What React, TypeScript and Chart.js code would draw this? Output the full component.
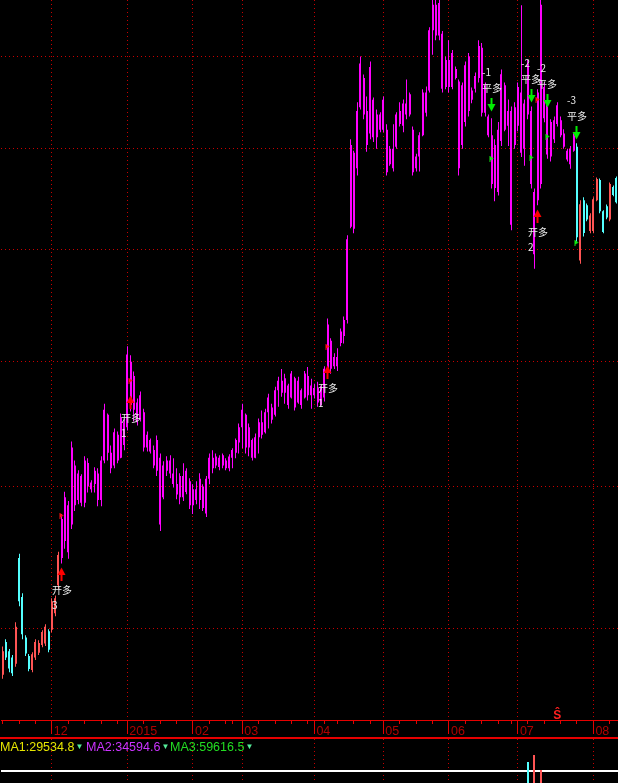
import React, { useEffect, useRef } from 'react';
import { Chart, registerables } from 'chart.js';

Chart.register(...registerables);

// ---------- trading days (categories) ----------
const nov2014 = [10, 11, 12, 13, 14, 17, 18, 19, 20, 21, 24, 25, 26, 27, 28];
const dec2014 = [1, 2, 3, 4, 5, 8, 9, 10, 11, 12, 15, 16, 17, 18, 19, 22, 23, 24, 25, 26, 29, 30, 31];
const jan2015 = [5, 6, 7, 8, 9, 12, 13, 14, 15, 16, 19, 20, 21, 22, 23, 26, 27, 28, 29, 30];
const feb2015 = [2, 3, 4, 5, 6, 9, 10, 11, 12, 13, 16, 17, 25, 26, 27];
const mar2015 = [2, 3, 4, 5, 6, 9, 10, 11, 12, 13, 16, 17, 18, 19, 20, 23, 24, 25, 26, 27, 30, 31];
const apr2015 = [1, 2, 3, 7, 8, 9, 10, 13, 14, 15, 16, 17, 20, 21, 22, 23, 24, 27, 28, 29, 30];
const may2015 = [4, 5, 6, 7, 8, 11, 12, 13, 14, 15, 18, 19, 20, 21, 22, 25, 26, 27, 28, 29];
const jun2015 = [1, 2, 3, 4, 5, 8, 9, 10, 11, 12, 15, 16, 17, 18, 19, 23, 24, 25, 26, 29, 30];
const jul2015 = [1, 2, 3, 6, 7, 8, 9, 10, 13, 14, 15, 16, 17, 20, 21, 22, 23, 24, 27, 28, 29, 30, 31];
const aug2015 = [3, 4, 5, 6, 7, 10, 11, 12];

const monthTickLabels = ['12', '2015', '02', '03', '04', '05', '06', '07', '08'];

// ---------- OHLC ----------
const opens = [
  3350, 3455, 3425, 3405, 3385, 3740, 3605, 3470, 3410, 3365,
  3405, 3420, 3445, 3450, 3490, 3495, 3550, 3645, 3740, 3800,
  3930, 3860, 4080, 3950, 4040, 3940, 4090, 3990, 4010, 4050,
  3950, 4100, 4280, 4130, 4080, 4200, 4110, 4250, 4230, 4500,
  4300, 4330, 4260, 4290, 4150, 4180, 4140, 4060, 4110, 3960,
  4060, 4100, 4050, 4010, 3960, 4040, 3980, 4020, 3930, 3990,
  3950, 4000, 3900, 4030, 4110, 4080, 4110, 4080, 4100, 4070,
  4110, 4130, 4170, 4230, 4280, 4150, 4180, 4110, 4190, 4250,
  4210, 4290, 4310, 4280, 4380, 4420, 4370, 4400, 4350, 4430,
  4330, 4380, 4350, 4440, 4360, 4390, 4390, 4320, 4350, 4460,
  4590, 4480, 4520, 4580, 4610, 4680, 5110, 5480, 5400, 5720,
  5880, 5700, 5580, 5760, 5560, 5680, 5600, 5600, 5420, 5500,
  5510, 5700, 5620, 5740, 5680, 5600, 5400, 5460, 5570, 5800,
  5810, 6150, 6300, 6120, 6130, 5830, 5980, 5830, 5930, 5860,
  5520, 5950, 5700, 5810, 5820, 5880, 6050, 5840, 5670, 5570,
  5300, 5600, 5540, 5840, 5620, 5700, 5520, 5620, 5800, 5500,
  5960, 5700, 4980, 5240, 5320, 5830, 5740, 5460, 5650, 5630,
  5650, 5580, 5490, 5420, 5490, 5510, 4950, 5240, 5215, 5090,
  5090, 5240, 5340, 5185, 5210, 5145, 5305, 5350,
];
const highs = [
  3440, 3464, 3432, 3413, 3520, 3755, 3617, 3477, 3416, 3422,
  3464, 3461, 3493, 3513, 3497, 3600, 3610, 3762, 3898, 3981,
  3946, 4174, 4100, 4062, 4047, 4116, 4108, 4024, 4074, 4070,
  4116, 4325, 4285, 4158, 4225, 4213, 4285, 4265, 4566, 4527,
  4458, 4346, 4375, 4305, 4213, 4186, 4158, 4197, 4127, 4097,
  4116, 4120, 4108, 4070, 4051, 4089, 4070, 4032, 4009, 4020,
  4051, 4009, 4040, 4127, 4139, 4127, 4120, 4127, 4108, 4124,
  4147, 4186, 4245, 4325, 4285, 4245, 4186, 4205, 4265, 4297,
  4305, 4366, 4325, 4395, 4436, 4469, 4449, 4407, 4461, 4436,
  4436, 4387, 4461, 4477, 4428, 4407, 4415, 4399, 4481, 4687,
  4600, 4536, 4557, 4643, 4696, 5070, 5550, 5490, 5746, 6000,
  5899, 5778, 5972, 5773, 5708, 5692, 5778, 5628, 5515, 5628,
  5692, 5746, 5762, 5871, 5800, 5617, 5474, 5586, 5817, 5833,
  6168, 6360, 6340, 6330, 6146, 6000, 6093, 6037, 5943, 5871,
  5855, 5972, 6020, 5827, 5910, 6093, 6076, 5855, 5681, 5660,
  5550, 5640, 5927, 5855, 5762, 5724, 5746, 5855, 6297, 5762,
  5983, 5724, 5298, 5817, 6340, 5855, 5762, 5655, 5670, 5746,
  5670, 5602, 5500, 5514, 5581, 5529, 5239, 5254, 5224, 5176,
  5254, 5353, 5348, 5190, 5219, 5328, 5313, 5358,
];
const lows = [
  3337, 3397, 3358, 3346, 3375, 3573, 3464, 3410, 3361, 3358,
  3397, 3413, 3438, 3442, 3422, 3487, 3540, 3633, 3720, 3772,
  3737, 3843, 3909, 3934, 3927, 3923, 3978, 3978, 3978, 3927,
  3927, 4089, 4100, 4051, 4070, 4089, 4108, 4139, 4217, 4293,
  4253, 4237, 4253, 4135, 4135, 4127, 4070, 4040, 3836, 3953,
  4040, 4032, 3997, 3953, 3934, 3946, 3971, 3916, 3898, 3934,
  3916, 3909, 3887, 4009, 4051, 4070, 4062, 4070, 4062, 4058,
  4070, 4108, 4127, 4147, 4127, 4116, 4100, 4108, 4127, 4186,
  4205, 4225, 4245, 4273, 4313, 4354, 4325, 4305, 4346, 4297,
  4325, 4305, 4346, 4338, 4305, 4346, 4313, 4313, 4334, 4441,
  4449, 4469, 4461, 4566, 4578, 4665, 5103, 5079, 5363, 5708,
  5655, 5485, 5550, 5535, 5500, 5586, 5586, 5363, 5413, 5383,
  5500, 5617, 5586, 5655, 5670, 5363, 5383, 5383, 5565, 5670,
  5800, 6009, 6093, 6093, 5800, 5817, 5800, 5817, 5871, 5363,
  5500, 5617, 5670, 5741, 5800, 5855, 5670, 5670, 5560, 5298,
  5234, 5263, 5514, 5591, 5514, 5093, 5500, 5591, 5458, 5413,
  5655, 5298, 4912, 5215, 5298, 5639, 5449, 5434, 5530, 5617,
  5560, 5500, 5434, 5398, 5485, 5039, 4935, 5064, 5137, 5079,
  5079, 5234, 5176, 5079, 5147, 5137, 5259, 5224,
];
const closes = [
  3425, 3405, 3370, 3355, 3505, 3590, 3480, 3418, 3368, 3415,
  3455, 3452, 3488, 3505, 3430, 3590, 3600, 3750, 3880, 3960,
  3760, 4150, 3930, 4050, 3940, 4100, 4000, 4015, 4060, 3950,
  4100, 4300, 4130, 4070, 4210, 4100, 4270, 4160, 4530, 4320,
  4440, 4250, 4360, 4150, 4200, 4135, 4080, 4180, 3860, 4080,
  4100, 4050, 4010, 3970, 4040, 3960, 4060, 3930, 3990, 3950,
  4030, 3920, 4030, 4110, 4070, 4115, 4075, 4120, 4070, 4115,
  4140, 4180, 4230, 4300, 4150, 4230, 4110, 4190, 4250, 4200,
  4290, 4350, 4260, 4380, 4420, 4370, 4430, 4320, 4450, 4310,
  4420, 4320, 4450, 4360, 4400, 4360, 4330, 4390, 4470, 4660,
  4470, 4520, 4480, 4630, 4680, 5050, 5520, 5100, 5700, 5960,
  5680, 5520, 5940, 5560, 5680, 5600, 5760, 5380, 5500, 5400,
  5680, 5630, 5740, 5680, 5790, 5380, 5460, 5570, 5800, 5690,
  6150, 6300, 6120, 6310, 5820, 5980, 5830, 6020, 5880, 5400,
  5840, 5640, 6000, 5760, 5890, 6060, 5690, 5690, 5570, 5320,
  5520, 5280, 5900, 5600, 5700, 5120, 5720, 5830, 5480, 5740,
  5680, 5320, 5280, 5800, 6300, 5660, 5470, 5640, 5550, 5730,
  5570, 5510, 5445, 5500, 5570, 5060, 5220, 5080, 5145, 5165,
  5245, 5345, 5185, 5085, 5155, 5320, 5265, 5230,
];

// bars held in a long position (drawn magenta)
const holdFrom = 18;
const holdTo = 174;

// horizontal grid levels and visible price range
const priceGrid = [3500, 4000, 4500, 5000, 5500, 6000];
const priceMin = 3210;
const priceMax = 6328;

// trade signals
const signalIndex = [18, 39, 99, 149, 161, 163, 166, 175];
const signalText = ['开多', '开多', '开多', '平多', '平多', '开多', '平多', '平多'];
const signalQty = ['3', '1', '1', '-1', '-2', '2', '-2', '-3'];
const signalPrice = [3706, 4358, 4482, 5697, 5746, 5190, 5719, 5550];
// fill price of each signal (small flag on the bar)
const fillPrice = [3889, 4417, 4564, 5448, 5453, 5760, 5563, 5034];

// marker on the time axis
const axisMarkIndex = 169;
const axisMarkText = 'Ŝ';

// volume panel (only the tops of the tallest bars are visible)
const volumeIndex = [160, 162, 164];
const volumeValue = [216800, 239100, 191400];
const volumeMin = 150000;
const volumeMax = 290000;
const volumeRefLine = 188000;

// moving average legend
const maNames = ['MA1', 'MA2', 'MA3'];
const maValues = ['29534.8', '34594.6', '59616.5'];

// ---------- derived ----------
const pad2 = (n: number) => (n < 10 ? '0' + n : String(n));
const monthBlocks: Array<[number, number, number[]]> = [
  [2014, 11, nov2014], [2014, 12, dec2014], [2015, 1, jan2015], [2015, 2, feb2015], [2015, 3, mar2015],
  [2015, 4, apr2015], [2015, 5, may2015], [2015, 6, jun2015], [2015, 7, jul2015], [2015, 8, aug2015],
];
const dates: string[] = [];
monthBlocks.forEach(([y, m, days]) => days.forEach((d) => dates.push(`${y}-${pad2(m)}-${pad2(d)}`)));

const toDate = (s: string) => {
  const [y, m, d] = s.split('-').map(Number);
  return new Date(Date.UTC(y, m - 1, d));
};
const monthStarts: number[] = [];
const weekStarts: number[] = [0];
dates.forEach((s, i) => {
  if (i === 0) return;
  const cur = toDate(s);
  const prev = toDate(dates[i - 1]);
  const gap = (cur.getTime() - prev.getTime()) / 86400000;
  const dow = (cur.getUTCDay() + 6) % 7;
  const pdow = (prev.getUTCDay() + 6) % 7;
  if (dow <= pdow || gap >= 7) weekStarts.push(i);
  if (cur.getUTCMonth() !== prev.getUTCMonth()) monthStarts.push(i);
});
const axisTicks = Array.from(new Set([...weekStarts, ...monthStarts])).sort((a, b) => a - b);
const monthLabel = new Map<number, string>();
monthStarts.forEach((idx, k) => monthLabel.set(idx, monthTickLabels[k]));

const MAGENTA = '#ff00ff';
const UP = '#ff5454';
const DOWN = '#54ffff';
const GRID_RED = '#c80000';
const AXIS_RED = '#e60000';
const LABEL_RED = '#b00000';

const barColors = dates.map((_, i) =>
  i >= holdFrom && i <= holdTo ? MAGENTA : closes[i] >= opens[i] ? UP : DOWN
);
const volColors = dates.map((_, i) => (closes[i] >= opens[i] ? UP : DOWN));
const volumes: (number | null)[] = dates.map(() => null);
volumeIndex.forEach((idx, k) => (volumes[idx] = volumeValue[k]));

function makeArrow(up: boolean, color: string): HTMLCanvasElement {
  const c = document.createElement('canvas');
  c.width = 9;
  c.height = 28;
  const g = c.getContext('2d') as CanvasRenderingContext2D;
  g.fillStyle = color;
  if (up) {
    g.beginPath();
    g.moveTo(4.5, 13.5);
    g.lineTo(8.5, 21);
    g.lineTo(0.5, 21);
    g.closePath();
    g.fill();
    g.fillRect(3.5, 21, 2, 6);
  } else {
    g.fillRect(3.5, 1, 2, 6);
    g.beginPath();
    g.moveTo(0.5, 7);
    g.lineTo(8.5, 7);
    g.lineTo(4.5, 14.5);
    g.closePath();
    g.fill();
  }
  return c;
}

function makeFlag(color: string): HTMLCanvasElement {
  const c = document.createElement('canvas');
  c.width = 6;
  c.height = 6;
  const g = c.getContext('2d') as CanvasRenderingContext2D;
  g.fillStyle = color;
  g.fillRect(1, 0, 1, 6);
  g.beginPath();
  g.moveTo(2, 0.5);
  g.lineTo(5, 2.5);
  g.lineTo(2, 4.5);
  g.closePath();
  g.fill();
  return c;
}

// snap bars and markers to whole pixels so 1px / 2px marks stay crisp
const snapPlugin = {
  id: 'snap',
  beforeDatasetsDraw(chart: any) {
    chart.data.datasets.forEach((_: any, di: number) => {
      const meta = chart.getDatasetMeta(di);
      meta.data.forEach((el: any) => {
        if (meta.type === 'bar') {
          const w = el.width;
          el.x = Math.round(el.x - w / 2) + w / 2;
        } else {
          el.x = Math.round(el.x - 0.5) + 0.5;
          el.y = Math.round(el.y);
        }
      });
    });
  },
};

const overlayPlugin = {
  id: 'overlay',
  afterDatasetsDraw(chart: any) {
    const { ctx, chartArea, scales } = chart;
    const xs = scales.x;
    const ys = scales.y;
    ctx.save();
    ctx.font = '10px "Noto Sans CJK SC", sans-serif';
    ctx.fillStyle = '#ebebeb';
    ctx.textBaseline = 'middle';
    signalIndex.forEach((idx, k) => {
      const px = Math.round(xs.getPixelForValue(idx));
      const py = Math.round(ys.getPixelForValue(signalPrice[k]));
      const isOpen = signalText[k] === '开多';
      const w = ctx.measureText(signalText[k]).width;
      ctx.textAlign = 'center';
      ctx.fillText(signalText[k], px, isOpen ? py + 22 : py - 23);
      ctx.textAlign = 'left';
      ctx.fillText(signalQty[k], px - w / 2, isOpen ? py + 37 : py - 39);
    });
    ctx.font = 'bold 12px "Liberation Sans", Arial, sans-serif';
    ctx.fillStyle = '#ff2020';
    ctx.textAlign = 'center';
    ctx.textBaseline = 'alphabetic';
    ctx.fillText(axisMarkText, xs.getPixelForValue(axisMarkIndex), chartArea.bottom - 1.5);
    ctx.restore();
  },
  afterDraw(chart: any) {
    const { ctx, chartArea, scales } = chart;
    ctx.save();
    ctx.strokeStyle = AXIS_RED;
    ctx.lineWidth = 1;
    monthStarts.forEach((idx) => {
      const px = Math.round(scales.x.getPixelForValue(idx) - 0.5) + 0.5;
      ctx.beginPath();
      ctx.moveTo(px, chartArea.bottom);
      ctx.lineTo(px, chartArea.bottom + 14);
      ctx.stroke();
    });
    ctx.restore();
  },
};

export default function App() {
  const priceRef = useRef<HTMLCanvasElement>(null);
  const volRef = useRef<HTMLCanvasElement>(null);

  useEffect(() => {
    document.body.style.margin = '0';
    document.body.style.background = '#000';

    const upArrow = makeArrow(true, '#ff0000');
    const downArrow = makeArrow(false, '#00ee00');
    const redFlag = makeFlag('#ff1010');
    const greenFlag = makeFlag('#10ee10');
    const openPts: any[] = [];
    const closePts: any[] = [];
    const openFills: any[] = [];
    const closeFills: any[] = [];
    signalIndex.forEach((idx, k) => {
      const isOpen = signalText[k] === '开多';
      (isOpen ? openPts : closePts).push({ x: dates[idx], y: signalPrice[k] });
      (isOpen ? openFills : closeFills).push({ x: dates[idx], y: fillPrice[k] });
    });

    const common: any = {
      animation: false,
      responsive: false,
      maintainAspectRatio: false,
      devicePixelRatio: 1,
      events: [],
      layout: { autoPadding: false, padding: { left: 1, right: 0, top: 0, bottom: 0 } },
      plugins: { legend: { display: false }, tooltip: { enabled: false }, title: { display: false } },
    };

    const pointSet = (data: any[], style: any) => ({
      type: 'line',
      data,
      showLine: false,
      pointStyle: style,
      pointRadius: 4,
      order: 0,
    });

    const price = new Chart(priceRef.current as HTMLCanvasElement, {
      type: 'bar',
      data: {
        labels: dates,
        datasets: [
          pointSet(openPts, upArrow),
          pointSet(closePts, downArrow),
          pointSet(openFills, redFlag),
          pointSet(closeFills, greenFlag),
          {
            data: dates.map((_, i) => [opens[i], closes[i]]),
            backgroundColor: barColors,
            barThickness: 2,
            grouped: false,
            inflateAmount: 0,
            order: 1,
          } as any,
          {
            data: dates.map((_, i) => [lows[i], highs[i]]),
            backgroundColor: barColors,
            barThickness: 1,
            grouped: false,
            inflateAmount: 0,
            order: 2,
          } as any,
        ] as any,
      },
      options: {
        ...common,
        scales: {
          x: {
            type: 'category',
            offset: true,
            afterBuildTicks: (s: any) => {
              s.ticks = axisTicks.map((v) => ({ value: v }));
            },
            ticks: {
              autoSkip: false,
              maxRotation: 0,
              minRotation: 0,
              align: 'start',
              labelOffset: 2,
              padding: 1,
              color: LABEL_RED,
              font: { family: '"Liberation Sans", Arial, sans-serif', size: 12.5, lineHeight: 13 / 12.5 },
              callback: (v: any) => monthLabel.get(Number(v)) ?? '',
            },
            grid: {
              display: true,
              offset: false,
              drawOnChartArea: true,
              drawTicks: true,
              tickLength: 4,
              tickColor: AXIS_RED,
              tickWidth: 1,
              lineWidth: 1,
              color: (c: any) => (c.tick && monthLabel.has(c.tick.value) ? GRID_RED : 'rgba(0,0,0,0)'),
            },
            border: { display: true, color: AXIS_RED, width: 1, dash: [1, 3] },
          },
          y: {
            type: 'logarithmic',
            min: priceMin,
            max: priceMax,
            bounds: 'data',
            afterBuildTicks: (s: any) => {
              s.ticks = priceGrid.map((v) => ({ value: v }));
            },
            ticks: { display: false },
            grid: { color: GRID_RED, drawTicks: false, lineWidth: 1 },
            border: { display: false, dash: [1, 3] },
          },
        },
      },
      plugins: [snapPlugin, overlayPlugin],
    } as any);

    const vol = new Chart(volRef.current as HTMLCanvasElement, {
      type: 'bar',
      data: {
        labels: dates,
        datasets: [
          {
            data: volumes,
            backgroundColor: volColors,
            barThickness: 2,
            inflateAmount: 0,
          } as any,
        ],
      },
      options: {
        ...common,
        scales: {
          x: {
            type: 'category',
            offset: true,
            afterBuildTicks: (s: any) => {
              s.ticks = monthStarts.map((v) => ({ value: v }));
            },
            ticks: { display: false },
            grid: { offset: false, color: GRID_RED, drawTicks: false, lineWidth: 1 },
            border: { display: false, dash: [1, 3] },
          },
          y: {
            type: 'linear',
            min: volumeMin,
            max: volumeMax,
            afterBuildTicks: (s: any) => {
              s.ticks = [{ value: volumeRefLine }];
            },
            ticks: { display: false },
            grid: { color: '#ffffff', lineWidth: 2, drawTicks: false },
            border: { display: false },
          },
        },
      },
      plugins: [snapPlugin],
    } as any);

    return () => {
      price.destroy();
      vol.destroy();
    };
  }, []);

  const maColors = ['#e6e600', '#cc33ff', '#22dd22'];
  const maLeft = [0, 86, 170];

  return (
    <div style={{ position: 'relative', width: 618, height: 783, background: '#000', overflow: 'hidden' }}>
      <canvas ref={priceRef} width={618} height={739} style={{ position: 'absolute', left: 0, top: 0 }} />
      <div style={{ position: 'absolute', left: 0, top: 737, width: 618, height: 2, background: AXIS_RED }} />
      <canvas ref={volRef} width={618} height={44} style={{ position: 'absolute', left: 0, top: 739 }} />
      <div
        style={{
          position: 'absolute',
          left: 0,
          top: 740,
          width: 618,
          height: 14,
          font: '12.5px "Liberation Sans", Arial, sans-serif',
          lineHeight: '14px',
          whiteSpace: 'nowrap',
        }}
      >
        {maNames.map((n, k) => (
          <span key={n} style={{ position: 'absolute', left: maLeft[k], top: 0, color: maColors[k] }}>
            {n}:{maValues[k]}
            <span style={{ fontSize: 8, color: '#55ee99', verticalAlign: 'top', marginLeft: 1 }}>▼</span>
          </span>
        ))}
      </div>
    </div>
  );
}
